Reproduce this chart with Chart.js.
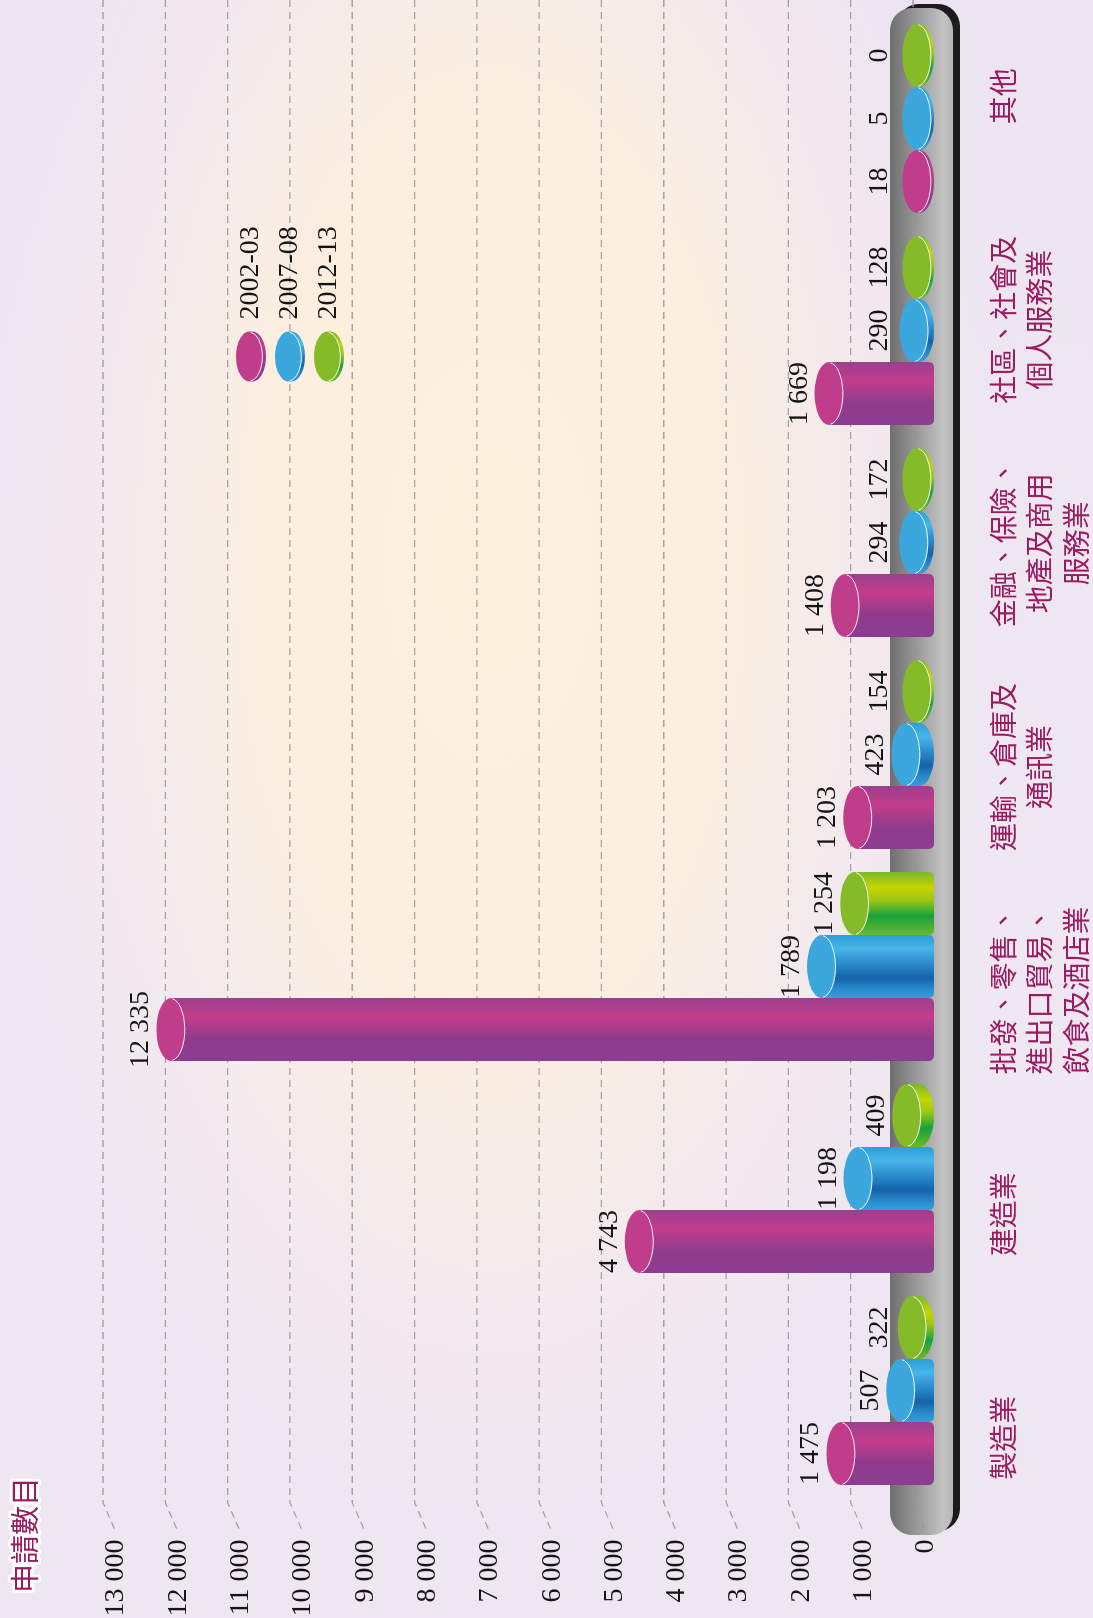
<!DOCTYPE html>
<html><head><meta charset="utf-8">
<script src="https://cdn.jsdelivr.net/npm/chart.js@4.4.1/dist/chart.umd.min.js"></script>
<style>
html,body{margin:0;padding:0;}
body{width:1093px;height:1618px;overflow:hidden;position:relative;
background:
 radial-gradient(ellipse 500px 980px at 490px 560px, #fdf0dd 0%, #fcefdf 45%, rgba(246,236,236,0.6) 75%, rgba(240,232,242,0) 100%),
 linear-gradient(180deg,#ece4f0 0%, #efe7f1 50%, #eee6f1 100%);}
#wrap{position:absolute;left:0;top:0;width:1618px;height:1093px;transform-origin:0 0;transform:translate(0,1618px) rotate(-90deg);}
canvas{display:block;}
</style></head>
<body>
<div id="wrap"><canvas id="c" width="1618" height="1093"></canvas></div>
<script>
// ---- data ----
const categories = [
  ['製造業'],
  ['建造業'],
  ['批發、零售、','進出口貿易、','飲食及酒店業'],
  ['運輸、倉庫及','通訊業'],
  ['金融、保險、','地產及商用','服務業'],
  ['社區、社會及','個人服務業'],
  ['其他']
];
const seriesNames = ['2002-03','2007-08','2012-13'];
const values2002 = [1475, 4743, 12335, 1203, 1408, 1669, 18];
const values2007 = [507, 1198, 1789, 423, 294, 290, 5];
const values2012 = [322, 409, 1254, 154, 172, 128, 0];
const yTickValues = [0,1000,2000,3000,4000,5000,6000,7000,8000,9000,10000,11000,12000,13000];
const axisTitle = '申請數目';

// ---- styles ----
const styles = [
  {face:'#c03d8b', stops:[[0,'#9b3f8e'],[0.3,'#c23d8b'],[0.65,'#8f3b8c'],[1,'#8b3e91']]},
  {face:'#3ca7dd', stops:[[0,'#2a9fda'],[0.22,'#48b5e7'],[0.45,'#2b8ccd'],[0.68,'#1463a9'],[0.88,'#2a8fcf'],[1,'#32a0da']]},
  {face:'#85bb28', stops:[[0,'#7bb82b'],[0.25,'#c6d500'],[0.45,'#9cc617'],[0.7,'#16a23c'],[1,'#6fb72b']]}
];
const labelColor = '#9b1b60';
const fmt = n => String(n).replace(/\B(?=(\d{3})+(?!\d))/g, ' ');

function grad(ctx, x0, x1, st){
  const g = ctx.createLinearGradient(x0, 0, x1, 0);
  st.stops.forEach(s => g.addColorStop(s[0], s[1]));
  return g;
}
function drawCyl(ctx, cx, w, vt, bottom, st){
  const ry = 14.5;
  ctx.save();
  ctx.beginPath();
  if (vt > bottom - 2*ry) {
    const vb = bottom - ry;
    vt = Math.min(vt, vb - 2.5);
    ctx.moveTo(cx - w, vt);
    ctx.lineTo(cx - w, vb);
    ctx.ellipse(cx, vb, w, ry, 0, Math.PI, 0, true);
    ctx.lineTo(cx + w, vt);
    ctx.closePath();
  } else {
    const r = 6;
    ctx.moveTo(cx - w, vt);
    ctx.lineTo(cx - w, bottom - r);
    ctx.quadraticCurveTo(cx - w, bottom, cx - w + r, bottom);
    ctx.lineTo(cx + w - r, bottom);
    ctx.quadraticCurveTo(cx + w, bottom, cx + w, bottom - r);
    ctx.lineTo(cx + w, vt);
    ctx.closePath();
  }
  ctx.fillStyle = grad(ctx, cx + w, cx - w, st);
  ctx.fill();
  ctx.beginPath();
  ctx.ellipse(cx, vt, w, ry, 0, 0, Math.PI*2);
  ctx.fillStyle = st.face;
  ctx.fill();
  ctx.beginPath();
  ctx.ellipse(cx, vt, w - 0.6, ry - 0.6, 0, Math.PI*0.97, Math.PI*0.03, true);
  ctx.strokeStyle = 'rgba(255,255,255,0.9)';
  ctx.lineWidth = 1;
  ctx.stroke();
  ctx.restore();
  return vt;
}

const cylPlugin = {
  id: 'cyl',
  beforeDraw(chart){
    const ctx = chart.ctx, a = chart.chartArea;
    const x0 = a.left - 38.5, x1 = a.right + 4.5, y0 = a.bottom - 44, y1 = a.bottom + 19;
    ctx.save();
    ctx.fillStyle = '#1c1c1c';
    ctx.beginPath(); ctx.roundRect(x0 + 4, y0 + 7, x1 - x0, y1 - y0, 22); ctx.fill();
    const g = ctx.createLinearGradient(0, y0, 0, y1);
    g.addColorStop(0, '#6e6e6e'); g.addColorStop(0.85, '#c3c3c3'); g.addColorStop(1, '#b5b5b5');
    ctx.fillStyle = g;
    ctx.beginPath(); ctx.roundRect(x0, y0, x1 - x0, y1 - y0, 22); ctx.fill();
    ctx.restore();
  },
  beforeDatasetsDraw(chart){
    const ctx = chart.ctx, a = chart.chartArea, ys = chart.scales.y;
    ctx.save();
    ctx.setLineDash([7,5]);
    ctx.strokeStyle = 'rgba(150,150,150,0.85)';
    ctx.lineWidth = 1.3;
    ys.ticks.forEach(t => {
      const v = ys.getPixelForValue(t.value);
      ctx.beginPath();
      ctx.moveTo(chart.width, v);
      ctx.lineTo(a.left - 6, v);
      ctx.lineTo(a.left - 36, v + 13);
      ctx.stroke();
    });
    ctx.restore();
  },
  beforeDatasetDraw(chart, args){
    const ctx = chart.ctx, a = chart.chartArea;
    const st = styles[args.index];
    args.meta.data.forEach(el => {
      el._topV = drawCyl(ctx, el.x, el.width/2, el.y, a.bottom, st);
    });
    return false;
  },
  afterDatasetsDraw(chart){
    const ctx = chart.ctx, a = chart.chartArea;
    ctx.save();
    ctx.font = '28px "Liberation Serif", "Times New Roman", serif';
    ctx.fillStyle = '#151515';
    ctx.textAlign = 'center';
    ctx.textBaseline = 'alphabetic';
    chart.data.datasets.forEach((ds, di) => {
      chart.getDatasetMeta(di).data.forEach((el, i) => {
        const base = Math.min(a.bottom - 47, el._topV - 14.5 - 8);
        ctx.fillText(fmt(ds.data[i]), el.x, base);
      });
    });
    // legend
    const lx = a.left + 1140, ly0 = a.top + 146.5, step = 39;
    chart.data.datasets.forEach((ds, di) => {
      const st = styles[di];
      const cy = ly0 + di*step;
      ctx.beginPath();
      ctx.ellipse(lx, cy + 3, 25, 13.5, 0, 0, Math.PI*2);
      ctx.fillStyle = grad(ctx, lx + 25, lx - 25, st);
      ctx.fill();
      ctx.beginPath();
      ctx.ellipse(lx, cy, 25, 13.5, 0, 0, Math.PI*2);
      ctx.fillStyle = st.face;
      ctx.fill();
      ctx.beginPath();
      ctx.ellipse(lx, cy, 24.4, 12.9, 0, Math.PI*0.97, Math.PI*0.03, true);
      ctx.strokeStyle = 'rgba(255,255,255,0.9)'; ctx.lineWidth = 1; ctx.stroke();
      ctx.fillStyle = '#151515';
      ctx.textAlign = 'left';
      ctx.textBaseline = 'middle';
      ctx.fillText(ds.label, lx + 37, cy + 1);
    });
    // axis title
    ctx.font = '29px "Noto Sans CJK TC", sans-serif';
    ctx.textAlign = 'left';
    ctx.textBaseline = 'middle';
    ctx.lineJoin = 'round';
    ctx.strokeStyle = '#ffffff';
    ctx.lineWidth = 6;
    ctx.strokeText(axisTitle, 25, 25);
    ctx.fillStyle = labelColor;
    ctx.fillText(axisTitle, 25, 25);
    ctx.restore();
  }
};

const seriesValues = [values2002, values2007, values2012];
new Chart(document.getElementById('c'), {
  type: 'bar',
  data: {
    labels: categories.map(c => c.join('')),
    datasets: seriesNames.map((n, i) => ({
      label: n, data: seriesValues[i], yAxisID: 'yb', xAxisID: 'x',
      backgroundColor: styles[i].face, categoryPercentage: 0.8915, barPercentage: 1
    }))
  },
  options: {
    responsive: false, devicePixelRatio: 1, animation: false,
    layout: { padding: { left: 0, right: 12.5, top: 103, bottom: 0 } },
    plugins: { legend: { display: false }, tooltip: { enabled: false } },
    scales: {
      x: { type: 'category', display: false, offset: true },
      xl: {
        type: 'linear', position: 'bottom', min: -0.2625, max: 6.374, offset: false,
        grid: { display: false, drawTicks: false, offset: false }, border: { display: false },
        afterBuildTicks: s => { s.ticks = categories.map((_, i) => ({ value: i })); },
        afterFit: s => { s.height = 159; s.paddingLeft = 0; s.paddingRight = 0; },
        ticks: {
          autoSkip: false, maxRotation: 0, minRotation: 0, padding: 51, color: labelColor,
          font: { family: '"Noto Sans CJK TC", sans-serif', size: 28, lineHeight: 1.3 },
          callback: v => categories[v]
        }
      },
      y: {
        type: 'linear', position: 'left', min: -337, max: 13000,
        grid: { display: false, drawTicks: false }, border: { display: false },
        afterBuildTicks: s => { s.ticks = yTickValues.map(v => ({ value: v })); },
        afterFit: s => { s.width = 121.5; s.paddingTop = 0; s.paddingBottom = 0; },
        ticks: {
          padding: 43, labelOffset: 13, color: '#151515',
          font: { family: '"Liberation Serif", "Times New Roman", serif', size: 28 },
          callback: v => fmt(v)
        }
      },
      yb: { type: 'linear', display: false, min: -32.4, max: 13436 }
    }
  },
  plugins: [cylPlugin]
});
</script>
</body></html>
